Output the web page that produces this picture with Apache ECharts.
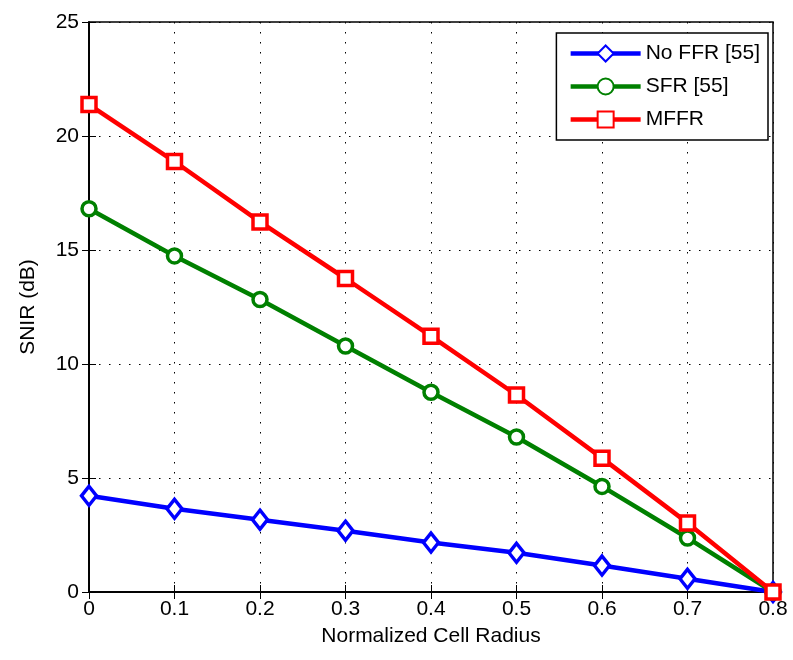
<!DOCTYPE html>
<html>
<head>
<meta charset="utf-8">
<script src="https://cdn.jsdelivr.net/npm/echarts@6/dist/echarts.min.js"></script>
<style>
  html, body { margin: 0; padding: 0; background: #fff; }
  #chart { width: 793px; height: 660px; }
</style>
</head>
<body>
<div id="chart"></div>
<script>
// 数据
const radius = [0, 0.1, 0.2, 0.3, 0.4, 0.5, 0.6, 0.7, 0.8]
const noFfr = [4.22, 3.65, 3.17, 2.69, 2.17, 1.72, 1.16, 0.58, 0]
const sfr = [16.81, 14.74, 12.83, 10.79, 8.76, 6.8, 4.63, 2.37, 0]
const mffr = [21.38, 18.88, 16.23, 13.75, 11.22, 8.64, 5.87, 3.03, 0]

const font = '"Liberation Sans Narrow", "Liberation Sans", Arial, sans-serif'

function pairs (ys) {
  return radius.map((x, i) => [x, ys[i]])
}

// 虚线网格
const dotted = { show: true, lineStyle: { type: [1.5, 8.5], color: '#000', width: 1 } }

const chart = echarts.init(document.getElementById('chart'), null, { renderer: 'canvas' })

chart.setOption({
  animation: false,
  backgroundColor: '#fff',
  textStyle: { fontFamily: font },
  grid: {
    left: 89,
    right: 20,
    top: 22,
    bottom: 68,
    show: true,
    borderColor: '#000',
    borderWidth: 1.5
  },
  legend: {
    right: 25,
    top: 33,
    orient: 'vertical',
    itemWidth: 70,
    itemHeight: 20,
    itemGap: 12,
    padding: [10, 8, 10, 12],
    borderColor: '#000',
    borderWidth: 1.5,
    backgroundColor: '#fff',
    lineStyle: { width: 4.5 },
    textStyle: { fontSize: 21, color: '#000', fontFamily: font },
    data: ['No FFR [55]', 'SFR [55]', 'MFFR']
  },
  xAxis: [{
    type: 'value',
    min: 0,
    max: 0.8,
    interval: 0.1,
    name: 'Normalized Cell Radius',
    nameLocation: 'middle',
    nameGap: 34,
    nameTextStyle: { fontSize: 21, color: '#000' },
    axisLine: { show: true, lineStyle: { color: '#000', width: 1.5 } },
    axisTick: { inside: true, length: 7, lineStyle: { color: '#000' } },
    axisLabel: {
      fontSize: 21,
      color: '#000',
      margin: 7,
      formatter: v => (Math.round(v * 10) / 10).toString()
    },
    splitLine: dotted
  }, {
    type: 'value',
    position: 'top',
    min: 0,
    max: 0.8,
    interval: 0.1,
    axisLine: { show: true, lineStyle: { color: '#000', width: 1.5 } },
    axisTick: { inside: true, length: 7, lineStyle: { color: '#000' } },
    axisLabel: { show: false },
    splitLine: { show: false }
  }],
  yAxis: [{
    type: 'value',
    min: 0,
    max: 25,
    interval: 5,
    name: 'SNIR (dB)',
    nameLocation: 'middle',
    nameGap: 50,
    nameTextStyle: { fontSize: 21, color: '#000' },
    axisLine: { show: true, lineStyle: { color: '#000', width: 1.5 } },
    axisTick: { show: true, inside: true, length: 7, lineStyle: { color: '#000' } },
    axisLabel: { fontSize: 21, color: '#000', margin: 10 },
    splitLine: dotted
  }, {
    type: 'value',
    position: 'right',
    min: 0,
    max: 25,
    interval: 5,
    axisLine: { show: true, lineStyle: { color: '#000', width: 1.5 } },
    axisTick: { show: true, inside: true, length: 7, lineStyle: { color: '#000' } },
    axisLabel: { show: false },
    splitLine: { show: false }
  }],
  series: [{
    name: 'No FFR [55]',
    type: 'line',
    data: pairs(noFfr),
    symbol: 'diamond',
    symbolSize: [15, 19],
    color: '#0000ff',
    lineStyle: { width: 4.5, color: '#0000ff' },
    itemStyle: { color: '#fff', borderColor: '#0000ff', borderWidth: 3.5 }
  }, {
    name: 'SFR [55]',
    type: 'line',
    data: pairs(sfr),
    symbol: 'circle',
    symbolSize: 14,
    color: '#008000',
    lineStyle: { width: 4.5, color: '#008000' },
    itemStyle: { color: '#fff', borderColor: '#008000', borderWidth: 3.5 }
  }, {
    name: 'MFFR',
    type: 'line',
    data: pairs(mffr),
    symbol: 'rect',
    symbolSize: 14,
    color: '#ff0000',
    lineStyle: { width: 4.5, color: '#ff0000' },
    itemStyle: { color: '#fff', borderColor: '#ff0000', borderWidth: 3.5 }
  }]
})
</script>
</body>
</html>
